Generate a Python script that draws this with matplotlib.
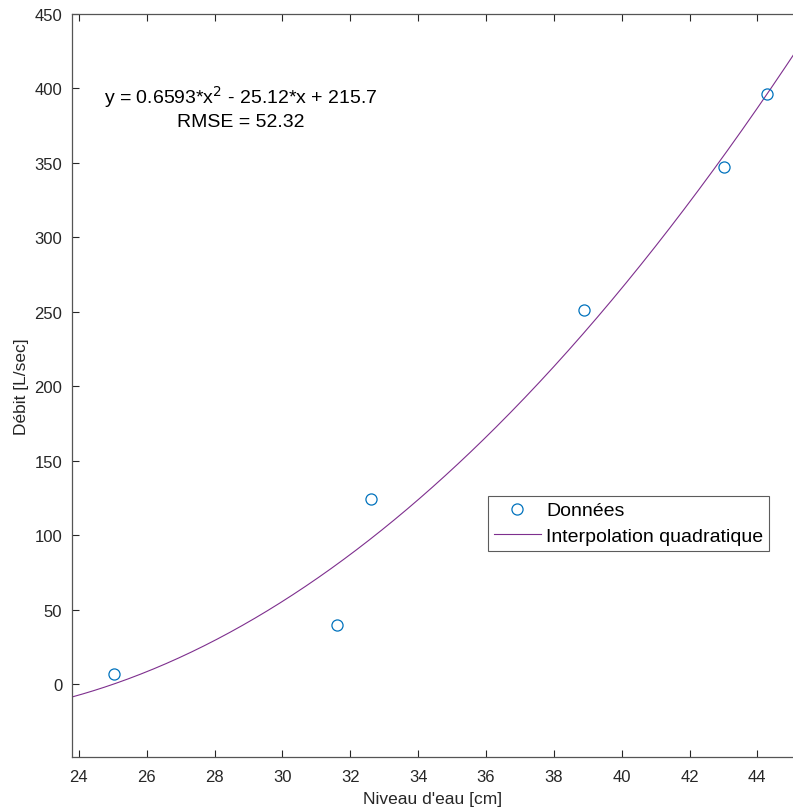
import numpy as np
import matplotlib
matplotlib.use("Agg")
import matplotlib.pyplot as plt

# measured points
niveau = [25.05, 31.6, 32.6, 38.88, 43.02, 44.28]
debit = [6.5, 39.5, 124.5, 251.0, 347.0, 396.5]

# quadratic fit coefficients as printed on the chart
coef = [0.6593, -25.12, 215.7]
rmse = 52.32

xticks = [24, 26, 28, 30, 32, 34, 36, 38, 40, 42, 44]
yticks = [0, 50, 100, 150, 200, 250, 300, 350, 400, 450]

plt.rcParams["font.family"] = ["Liberation Sans", "DejaVu Sans"]
axc = "#262626"
blue, purple = "#0072BD", "#7E2F8E"

fig = plt.figure(figsize=(7.93, 8.12), dpi=100)
ax = fig.add_axes([72 / 793, 54 / 812, 1 - 72 / 793, (758 - 15) / 812])

xs = np.linspace(23.8, 45.1, 400)
ax.plot(niveau, debit, "o", mfc="none", mec=blue, ms=8, mew=0.9, label="Données", zorder=3)
ax.plot(xs, np.polyval(coef, xs), "-", color=purple, lw=0.8, label="Interpolation quadratique")

ax.set_xlim(23.8, 45.05)
ax.set_ylim(-49, 450)
ax.set_xticks(xticks)
ax.set_yticks(yticks)
ax.tick_params(direction="in", length=5, width=0.8, colors=axc, labelsize=12,
               top=True, right=False)
ax.tick_params(axis="x", pad=9)
ax.tick_params(axis="y", pad=7)
ax.spines["right"].set_visible(False)
for s in ax.spines.values():
    s.set_color("#555555")
    s.set_linewidth(0.9)

ax.set_xlabel("Niveau d'eau [cm]", fontsize=12.5, color=axc, labelpad=5)
ax.set_ylabel("Débit [L/sec]", fontsize=12.5, color=axc, labelpad=4)

ax.text(0.234, 0.889, f"y = {coef[0]}*x$^2$ - {-coef[1]}*x + {coef[2]}",
        transform=ax.transAxes, ha="center", va="center", fontsize=14, color="black")
ax.text(0.234, 0.855, f"RMSE = {rmse}", transform=ax.transAxes,
        ha="center", va="center", fontsize=14, color="black")

leg = ax.legend(loc="upper left", bbox_to_anchor=((488 - 72) / 721, 1 - (497 - 15) / 743),
                fontsize=14, frameon=True, fancybox=False, edgecolor="#333333",
                borderpad=0.3, handlelength=2.4, handletextpad=0.3, labelspacing=0.4,
                borderaxespad=0)
leg.get_frame().set_linewidth(0.8)

fig.savefig("out.png", dpi=100)
